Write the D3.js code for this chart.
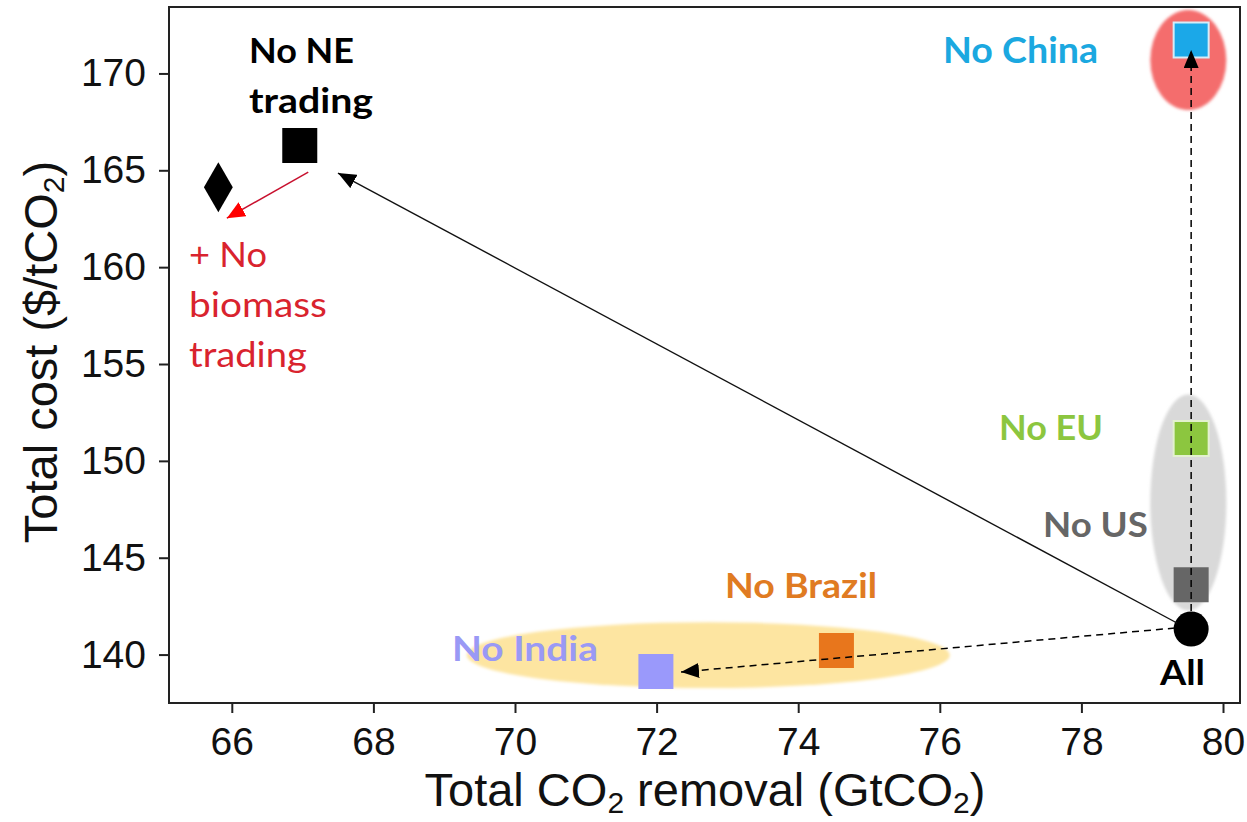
<!DOCTYPE html>
<html><head><meta charset="utf-8">
<script src="https://cdn.jsdelivr.net/npm/d3@7"></script>
<style>body{margin:0;background:#fff}svg{display:block}</style>
</head><body>
<svg id="chart" width="1247" height="822"></svg>
<script>
// ---- data ----
const scenarios = ["All", "No US", "No EU", "No China", "No Brazil", "No India", "No NE trading", "+ No biomass trading"];
const removal   = [79.55, 79.55, 79.55, 79.55, 74.54, 71.99, 66.96, 65.81];
const cost      = [141.32, 143.61, 151.15, 171.72, 140.21, 139.12, 166.28, 164.13];
const xTicks = [66, 68, 70, 72, 74, 76, 78, 80];
const yTicks = [140, 145, 150, 155, 160, 165, 170];

// ---- styles / layout ----
const shapeOf = {"All":"circle","+ No biomass trading":"diamond"};
const fillOf = {"All":"#000","No US":"#666666","No EU":"#8cc63f","No China":"#1ba8e8","No Brazil":"#e8761c","No India":"#9a99fb","No NE trading":"#000","+ No biomass trading":"#000"};
const strokeOf = {"No EU":"#e3f1cf","No China":"#d5ecf8"};

const W = 1247, H = 822;
const m = {left:169, top:7, right:7, bottom:119};
const x = d3.scaleLinear().domain([65.113, 80.24]).range([m.left, W - m.right]);
const y = d3.scaleLinear().domain([137.50, 173.43]).range([H - m.bottom, m.top]);

const svg = d3.select("#chart");
const defs = svg.append("defs");
function arrowMarker(id, color, len, wid){
  defs.append("marker").attr("id", id).attr("markerUnits","userSpaceOnUse")
    .attr("viewBox", `0 0 ${len} ${wid}`).attr("refX", len).attr("refY", wid/2)
    .attr("markerWidth", len).attr("markerHeight", wid).attr("orient","auto")
    .append("path").attr("d", `M0,0L${len},${wid/2}L0,${wid}Z`).attr("fill", color);
}
arrowMarker("ahBlack", "#000", 18, 15);
arrowMarker("ahRed", "#ff0000", 18, 16);

// background ellipses (groupings), in data units
const groups = [
  {cx:79.51, cy:170.69, rx:0.537, ry:2.58, fill:"#f46d6d"},
  {cx:79.51, cy:147.85, rx:0.537, ry:5.58, fill:"#d9d9d9"},
  {cx:72.73, cy:139.97, rx:3.41,  ry:1.70, fill:"#fde5a1"}
];
const blur = defs.append("filter").attr("id","soft").attr("x","-10%").attr("y","-10%").attr("width","120%").attr("height","120%");
blur.append("feGaussianBlur").attr("stdDeviation", 1.5);
svg.append("g").selectAll("ellipse").data(groups).join("ellipse")
  .attr("cx", d => x(d.cx)).attr("cy", d => y(d.cy))
  .attr("rx", d => x(d.cx + d.rx) - x(d.cx)).attr("ry", d => y(d.cy) - y(d.cy + d.ry))
  .attr("fill", d => d.fill).attr("filter","url(#soft)");

// arrows, in data units
const arrows = [
  {x1:79.32, y1:141.37, x2:72.345, y2:139.10, dash:"7,5", color:"#000", w:1.5, mk:"ahBlack"},
  {x1:79.55, y1:142.25, x2:79.55, y2:171.21, dash:"7,5", color:"#000", w:1.5, mk:"ahBlack"},
  {x1:79.35, y1:141.63, x2:67.50, y2:164.86, dash:null, color:"#111", w:1.4, mk:"ahBlack"},
  {x1:67.08, y1:164.91, x2:65.93, y2:162.53, dash:null, color:"#c8102e", w:1.5, mk:"ahRed"}
];

// markers
const pts = scenarios.map((s, i) => ({name:s, x:removal[i], y:cost[i]}));
const sym = d3.symbol().type(d => {
  const s = shapeOf[d.name] || "square";
  return s === "circle" ? d3.symbolCircle : s === "diamond" ? d3.symbolDiamond : d3.symbolSquare;
}).size(d => {
  const s = shapeOf[d.name] || "square";
  return s === "circle" ? Math.PI*17.5*17.5 : s === "diamond" ? 722 : 35*35;
});
svg.append("g").selectAll("path").data(pts).join("path")
  .attr("transform", d => `translate(${x(d.x)},${y(d.y)})`)
  .attr("d", sym)
  .attr("fill", d => fillOf[d.name])
  .attr("stroke", d => strokeOf[d.name] || "none")
  .attr("stroke-width", 2);

svg.append("g").selectAll("line").data(arrows).join("line")
  .attr("x1", d => x(d.x1)).attr("y1", d => y(d.y1))
  .attr("x2", d => x(d.x2)).attr("y2", d => y(d.y2))
  .attr("stroke", d => d.color).attr("stroke-width", d => d.w)
  .attr("stroke-dasharray", d => d.dash)
  .attr("marker-end", d => `url(#${d.mk})`);

// labels (anchor = left baseline, data units)
const labels = [
  {lines:["No NE","trading"], x:66.243, y:170.54, dy:50, color:"#000", weight:700, size:34, widths:[105,124]},
  {lines:["+ No","biomass","trading"], x:65.395, y:160.01, dy:50, color:"#d9232e", weight:400, size:35, widths:[78,138,118]},
  {lines:["No China"], x:76.045, y:170.54, dy:0, color:"#1ba8e0", weight:700, size:36, widths:[155]},
  {lines:["No EU"], x:76.836, y:151.08, dy:0, color:"#8cc63f", weight:700, size:34, widths:[104]},
  {lines:["No US"], x:77.457, y:146.07, dy:0, color:"#666666", weight:700, size:34, widths:[105]},
  {lines:["No Brazil"], x:72.966, y:142.92, dy:0, color:"#e07b22", weight:700, size:34, widths:[152]},
  {lines:["No India"], x:69.11, y:139.66, dy:0, color:"#9a99f5", weight:700, size:34, widths:[146]},
  {lines:["All"], x:79.11, y:138.43, dy:0, color:"#000", weight:700, size:35, widths:[45]}
];
const lg = svg.append("g").attr("font-family","Lato, 'Open Sans', sans-serif");
labels.forEach(L => {
  L.lines.forEach((t, i) => {
    lg.append("text").attr("x", x(L.x)).attr("y", y(L.y) + i*L.dy)
      .attr("fill", L.color).attr("font-weight", L.weight).attr("font-size", L.size)
      .attr("textLength", L.widths[i]).attr("lengthAdjust","spacingAndGlyphs")
      .text(t);
  });
});

// axes
const gx = svg.append("g").attr("transform", `translate(0,${H - m.bottom})`)
  .call(d3.axisBottom(x).tickValues(xTicks).tickSize(10).tickSizeOuter(0).tickPadding(14));
const gy = svg.append("g").attr("transform", `translate(${m.left},0)`)
  .call(d3.axisLeft(y).tickValues(yTicks).tickSize(10).tickSizeOuter(0).tickPadding(13));
[gx, gy].forEach(g => {
  g.select(".domain").remove();
  g.selectAll(".tick line").attr("stroke","#222").attr("stroke-width",2);
  g.selectAll(".tick text").attr("font-family","'Liberation Sans', Arial, sans-serif")
    .attr("font-size",39).attr("fill","#111");
});

// frame
svg.append("rect").attr("x", m.left).attr("y", m.top)
  .attr("width", W - m.right - m.left).attr("height", H - m.bottom - m.top)
  .attr("fill","none").attr("stroke","#222").attr("stroke-width",2);

// axis titles
const xt = svg.append("text").attr("x", 705).attr("y", 806).attr("text-anchor","middle")
  .attr("font-family","'Liberation Sans', Arial, sans-serif").attr("font-size",47).attr("fill","#111");
xt.append("tspan").text("Total CO");
xt.append("tspan").attr("font-size",30).attr("dy",7).text("2");
xt.append("tspan").attr("dy",-7).text(" removal (GtCO");
xt.append("tspan").attr("font-size",30).attr("dy",7).text("2");
xt.append("tspan").attr("dy",-7).text(")");

const yt = svg.append("text").attr("transform","translate(57,352) rotate(-90)").attr("text-anchor","middle")
  .attr("font-family","'Liberation Sans', Arial, sans-serif").attr("font-size",47).attr("fill","#111");
yt.append("tspan").text("Total cost ($/tCO");
yt.append("tspan").attr("font-size",30).attr("dy",7).text("2");
yt.append("tspan").attr("dy",-7).text(")");
</script>
</body></html>
